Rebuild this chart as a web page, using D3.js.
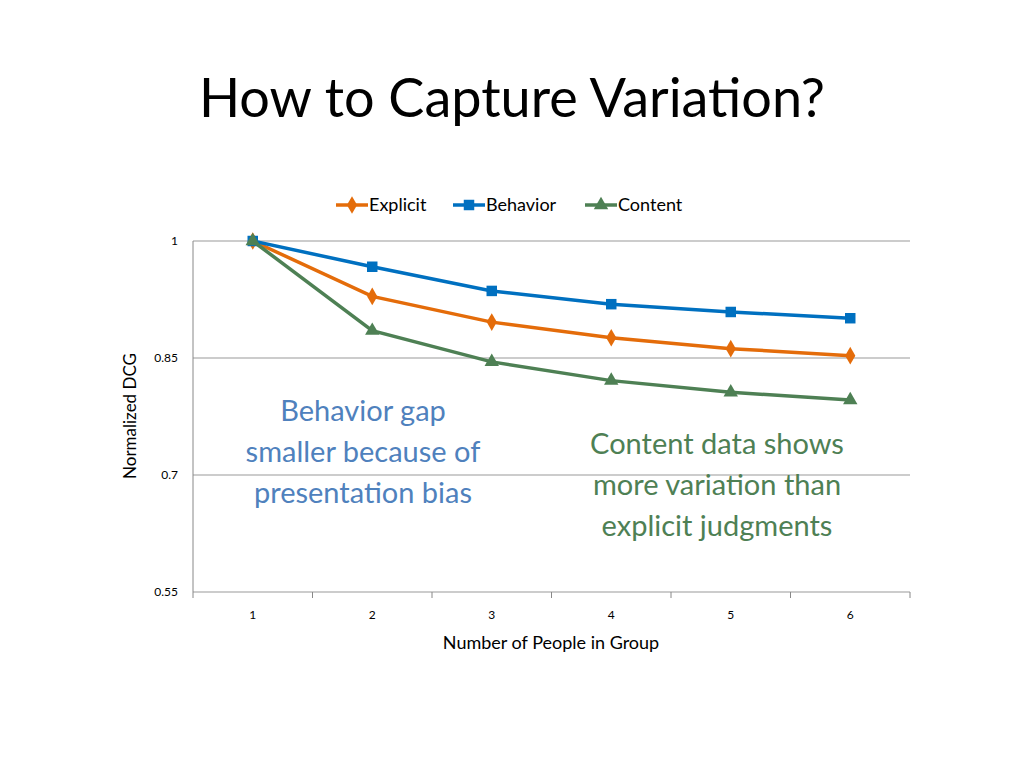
<!DOCTYPE html>
<html><head><meta charset="utf-8">
<script src="https://cdn.jsdelivr.net/npm/d3@7"></script>
<style>body{margin:0;background:#fff;font-family:Lato,"Open Sans",sans-serif;}</style>
</head><body><svg id="c" width="1024" height="768"></svg>
<script>
var groups = [1, 2, 3, 4, 5, 6];
var explicitVals = [1, 0.929, 0.896, 0.876, 0.862, 0.853];
var behaviorVals = [1, 0.967, 0.936, 0.919, 0.909, 0.901];
var contentVals = [1, 0.885, 0.845, 0.821, 0.806, 0.796];
var yTicks = [0.55, 0.7, 0.85, 1];

var svg = d3.select('#c');
var x = d3.scaleBand().domain(groups).range([193, 910]);
var y = d3.scaleLinear().domain([0.55, 1]).range([592, 241]);
var cx = function(d) { return x(d) + x.bandwidth() / 2; };

svg.append('text').attr('x', 512).attr('y', 117).attr('text-anchor', 'middle')
  .attr('font-size', 54).attr('fill', '#000').text('How to Capture Variation?');

// gridlines
svg.selectAll('.grid').data(yTicks).enter().append('line')
  .attr('x1', 193).attr('x2', 910).attr('y1', y).attr('y2', y)
  .attr('stroke', '#999').attr('stroke-width', 1);
svg.selectAll('.yl').data(yTicks).enter().append('text')
  .attr('x', 178).attr('y', function(d) { return y(d) + 4; })
  .attr('text-anchor', 'end').attr('font-size', 12).text(function(d) { return d; });
svg.append('line').attr('x1', 193).attr('x2', 193).attr('y1', 241).attr('y2', 592).attr('stroke', '#888');
svg.selectAll('.xt').data(d3.range(7)).enter().append('line')
  .attr('x1', function(i) { return 193 + i * x.bandwidth(); })
  .attr('x2', function(i) { return 193 + i * x.bandwidth(); })
  .attr('y1', 592).attr('y2', 598).attr('stroke', '#888');
svg.selectAll('.xl').data(groups).enter().append('text')
  .attr('x', cx).attr('y', 619).attr('text-anchor', 'middle').attr('font-size', 12).text(function(d) { return d; });
svg.append('text').attr('x', 551).attr('y', 649).attr('text-anchor', 'middle').attr('font-size', 18).text('Number of People in Group');
svg.append('text').attr('transform', 'translate(136,416) rotate(-90)').attr('text-anchor', 'middle')
  .attr('font-size', 17).text('Normalized DCG');

var series = [
  {name: 'Explicit', vals: explicitVals, color: '#E46C0A', shape: d3.symbolDiamond, size: 90},
  {name: 'Behavior', vals: behaviorVals, color: '#0070C0', shape: d3.symbolSquare, size: 110},
  {name: 'Content', vals: contentVals, color: '#4E8054', shape: d3.symbolTriangle, size: 90}
];
var line = d3.line().x(function(d, i) { return cx(groups[i]); }).y(function(d) { return y(d); });
series.forEach(function(s) {
  svg.append('path').attr('d', line(s.vals)).attr('fill', 'none').attr('stroke', s.color).attr('stroke-width', 3.5);
  svg.selectAll(null).data(s.vals).enter().append('path')
    .attr('d', d3.symbol().type(s.shape).size(s.size))
    .attr('transform', function(d, i) { return 'translate(' + cx(groups[i]) + ',' + y(d) + ')'; })
    .attr('fill', s.color);
});

// legend
var lx = [336, 453, 585];
series.forEach(function(s, i) {
  var g = svg.append('g').attr('transform', 'translate(' + lx[i] + ',205)');
  g.append('line').attr('x1', 0).attr('x2', 32).attr('stroke', s.color).attr('stroke-width', 3.5);
  g.append('path').attr('d', d3.symbol().type(s.shape).size(s.size)).attr('transform', 'translate(16,0)').attr('fill', s.color);
  g.append('text').attr('x', 33).attr('y', 6).attr('font-size', 18).text(s.name);
});

function block(lines, xp, y0, color) {
  svg.selectAll(null).data(lines).enter().append('text')
    .attr('x', xp).attr('y', function(d, i) { return y0 + i * 41; })
    .attr('text-anchor', 'middle').attr('font-size', 29).attr('fill', color).text(function(d) { return d; });
}
block(['Behavior gap', 'smaller because of', 'presentation bias'], 363, 421, '#4F81BD');
block(['Content data shows', 'more variation than', 'explicit judgments'], 717, 454, '#4E8054');
</script></body></html>
